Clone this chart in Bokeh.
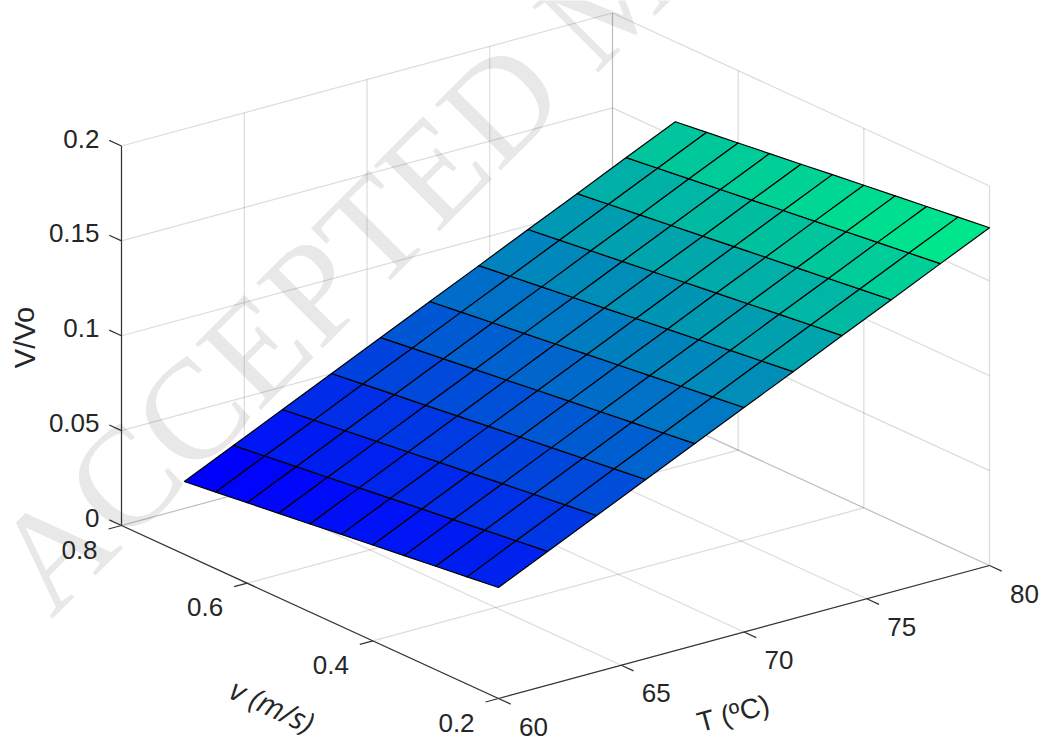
from math import pi, atan2, hypot
from bokeh.plotting import figure
from bokeh.embed import file_html
from bokeh.resources import INLINE
from bokeh.core.properties import value

# Data
T_values = [60, 62, 64, 66, 68, 70, 72, 74, 76, 78, 80]
v_values = [0.7, 0.65, 0.6, 0.55, 0.5, 0.45, 0.4, 0.35, 0.3, 0.25, 0.2]
z_T60 = [.0384, .0404, .0424, .0444, .0464, .0485, .0505, .0525, .0545, .0565, .0585]
z_T62 = [.0504, .0524, .0544, .0564, .0584, .0605, .0625, .0645, .0665, .0685, .0705]
z_T64 = [.0623, .0643, .0663, .0683, .0703, .0724, .0744, .0764, .0784, .0804, .0824]
z_T66 = [.0743, .0763, .0783, .0803, .0823, .0844, .0864, .0884, .0904, .0924, .0944]
z_T68 = [.0862, .0882, .0902, .0922, .0942, .0963, .0983, .1003, .1023, .1043, .1063]
z_T70 = [.0982, .1002, .1022, .1042, .1062, .1083, .1103, .1123, .1143, .1163, .1183]
z_T72 = [.1101, .1121, .1141, .1161, .1181, .1202, .1222, .1242, .1262, .1282, .1302]
z_T74 = [.1221, .1241, .1261, .1281, .1301, .1322, .1342, .1362, .1382, .1402, .1422]
z_T76 = [.1340, .1360, .1380, .1400, .1420, .1441, .1461, .1481, .1501, .1521, .1541]
z_T78 = [.1460, .1480, .1500, .1520, .1540, .1561, .1581, .1601, .1621, .1641, .1661]
z_T80 = [.1579, .1599, .1619, .1639, .1659, .1680, .1700, .1720, .1740, .1760, .1780]
z_rows = [z_T60, z_T62, z_T64, z_T66, z_T68, z_T70, z_T72, z_T74, z_T76, z_T78, z_T80]

T_ticks = [60, 65, 70, 75, 80]
v_ticks = [0.2, 0.4, 0.6, 0.8]
z_ticks = [0, 0.05, 0.1, 0.15, 0.2]
T_tick_labels = ["60", "65", "70", "75", "80"]
v_tick_labels = ["0.2", "0.4", "0.6", "0.8"]
z_tick_labels = ["0", "0.05", "0.1", "0.15", "0.2"]
watermark = "ACCEPTED M"

T0, T1 = 60, 80
v0, v1 = 0.2, 0.8
z0, z1 = 0.0, 0.2


def project(T, v, z):
    """Orthographic view of the box: the screen position of a data point."""
    a = (T - T0) / (T1 - T0)
    b = (v - v0) / (v1 - v0)
    c = (z - z0) / (z1 - z0)
    return 498 + 491 * a - 377 * b, 698 - 133 * a - 173 * b - 379.5 * c


def winter(t):
    return "#%02x%02x%02x" % (0, round(255 * t), round(255 * (1 - t / 2)))


p = figure(width=1043, height=742, x_range=(0, 1043), y_range=(742, 0),
           output_backend="svg", toolbar_location=None, min_border=0,
           x_axis_type=None, y_axis_type=None, outline_line_color=None)
p.grid.visible = False
p.background_fill_color = "white"

# Watermark under everything
p.text(x=[17], y=[585], text=[watermark], angle=[pi / 4], text_color="#e8e8e8",
       text_font=value("Liberation Serif"), text_font_size=value("142px"),
       text_align="left", text_baseline="alphabetic")

# Grid on the floor and the two back walls
gx, gy = [], []


def grid(a, b):
    xa, ya = project(*a)
    xb, yb = project(*b)
    gx.append([xa, xb])
    gy.append([ya, yb])


for T in T_ticks:
    grid((T, v0, z0), (T, v1, z0))
    grid((T, v1, z0), (T, v1, z1))
for v in v_ticks:
    grid((T0, v, z0), (T1, v, z0))
    grid((T1, v, z0), (T1, v, z1))
for z in z_ticks:
    grid((T0, v1, z), (T1, v1, z))
    grid((T1, v1, z), (T1, v0, z))
p.multi_line(gx, gy, line_color="#262626", line_alpha=0.16, line_width=1.2)

# Axis lines and ticks
ax, ay = [], []


def axis_line(a, b):
    xa, ya = project(*a)
    xb, yb = project(*b)
    ax.append([xa, xb])
    ay.append([ya, yb])


def tick(a, toward, length=13.5):
    xa, ya = project(*a)
    xb, yb = project(*toward)
    d = hypot(xb - xa, yb - ya)
    ax.append([xa, xa + (xb - xa) / d * length])
    ay.append([ya, ya + (yb - ya) / d * length])


axis_line((T0, v1, z0), (T0, v1, z1))
axis_line((T0, v1, z0), (T0, v0, z0))
axis_line((T0, v0, z0), (T1, v0, z0))
for T in T_ticks:
    tick((T, v0, z0), (T, v0 - 0.1, z0))
for v in v_ticks:
    tick((T0, v, z0), (T0 - 5, v, z0))
for z in z_ticks:
    tick((T0, v1, z), (T0, v1 + 0.1, z))
p.multi_line(ax, ay, line_color="#333333", line_width=1.2)

# Surface
xs, ys, cols = [], [], []
zmin = min(min(r) for r in z_rows)
zmax = max(max(r) for r in z_rows)
for i in range(len(T_values) - 1):
    for j in range(len(v_values) - 1):
        corners = [(i, j), (i + 1, j), (i + 1, j + 1), (i, j + 1)]
        pts = [project(T_values[a], v_values[b], z_rows[a][b]) for a, b in corners]
        xs.append([q[0] for q in pts])
        ys.append([q[1] for q in pts])
        cols.append(winter((z_rows[i][j] - zmin) / (zmax - zmin)))
p.patches(xs, ys, fill_color=cols, line_color="#000000", line_width=1.2, line_join="round")

# Tick labels
tx, ty, tt = [], [], []
for z, lab in zip(z_ticks, z_tick_labels):
    x, y = project(T0, v1, z)
    tx.append(x - 22)
    ty.append(y - 7.5)
    tt.append(lab)
p.text(tx, ty, text=tt, text_color="#262626", text_font=value("Liberation Sans"),
       text_font_size=value("26px"), text_align="right", text_baseline="middle")

tx, ty, tt = [], [], []
for v, lab in zip(v_ticks, v_tick_labels):
    x, y = project(T0, v, z0)
    tx.append(x - 42)
    ty.append(y + 24)
    tt.append(lab)
for T, lab in zip(T_ticks, T_tick_labels):
    x, y = project(T, v0, z0)
    tx.append(x + 35)
    ty.append(y + 28)
    tt.append(lab)
p.text(tx, ty, text=tt, text_color="#262626", text_font=value("Liberation Sans"),
       text_font_size=value("26px"), text_align="center", text_baseline="middle")

# Axis titles
p.text([24], [337], text=["V/Vo"], angle=[pi / 2], text_color="#262626",
       text_font=value("Liberation Sans"), text_font_size=value("29px"),
       text_align="center", text_baseline="middle")
xa, ya = project(T0, v1, z0)
xb, yb = project(T0, v0, z0)
p.text([272], [705], text=["v (m/s)"], angle=[-atan2(yb - ya, xb - xa)], text_color="#262626",
       text_font=value("Open Sans"), text_font_style="italic", text_font_size=value("30px"),
       text_align="center", text_baseline="middle")
xa, ya = project(T0, v0, z0)
xb, yb = project(T1, v0, z0)
p.text([733], [713], text=["T (ºC)"], angle=[-atan2(yb - ya, xb - xa)], text_color="#262626",
       text_font=value("Liberation Sans"), text_font_size=value("28px"),
       text_align="center", text_baseline="middle")

open("out.html", "w").write(file_html(p, INLINE))
